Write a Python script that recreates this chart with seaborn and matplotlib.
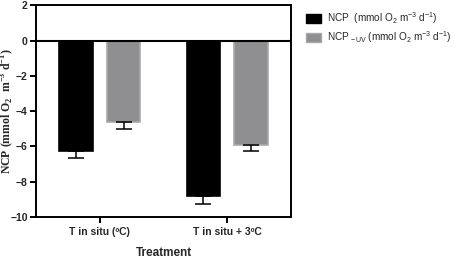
import matplotlib
matplotlib.use("Agg")
import matplotlib.pyplot as plt
from matplotlib.patches import Patch
import seaborn as sns
import pandas as pd
import numpy as np

treatments = ["T in situ (ºC)", "T in situ + 3ºC"]
series = ["NCP", "NCP_UV"]
ncp = [-6.25, -8.82]
ncp_err = [0.40, 0.46]
ncp_uv = [-4.60, -5.93]
ncp_uv_err = [0.38, 0.34]
legend_labels = [
    r"NCP  (mmol O$_2$ m$^{-3}$ d$^{-1}$)",
    r"NCP $_{\mathrm{-UV}}$ (mmol O$_2$ m$^{-3}$ d$^{-1}$)",
]

df = pd.DataFrame({
    "Treatment": treatments * 2,
    "Series": [series[0]] * 2 + [series[1]] * 2,
    "Value": ncp + ncp_uv,
})
errs = {series[0]: ncp_err, series[1]: ncp_uv_err}

sns.set_style("white")
plt.rcParams["font.family"] = ["Liberation Sans", "DejaVu Sans"]
plt.rcParams["mathtext.fontset"] = "custom"
plt.rcParams["mathtext.rm"] = "Liberation Sans"
plt.rcParams["mathtext.it"] = "Liberation Sans:italic"
plt.rcParams["mathtext.bf"] = "Liberation Serif:bold"

fig = plt.figure(figsize=(4.54, 2.6), dpi=100)
ax = fig.add_axes([0.0793, 0.1654, 0.5617, 0.8135])

colors = {series[0]: "#000000", series[1]: "#8e8e93"}
edges = {series[0]: "#000000", series[1]: "#a9a9a9"}
sns.barplot(
    data=df, x="Treatment", y="Value", hue="Series", palette=colors,
    errorbar=None, width=0.75, gap=0.3, ax=ax, legend=False,
)

# lower-only error bars with caps
for container, s in zip(ax.containers, series):
    xs = []
    for bar in container:
        bar.set_edgecolor(edges[s])
        bar.set_linewidth(1.2)
        xs.append(bar.get_x() + bar.get_width() / 2)
    vals = df.loc[df["Series"] == s, "Value"].values
    e = np.array(errs[s])
    ax.errorbar(xs, vals, yerr=[e, np.zeros_like(e)], fmt="none",
                ecolor="black", elinewidth=1.1, capsize=6, capthick=1.1, zorder=1)

ax.axhline(0, color="black", lw=1.5, zorder=3)
ax.set_ylim(-10, 2)
ax.set_xlim(-0.5, 1.5)
ax.set_yticks(range(-10, 3, 2))
for sp in ax.spines.values():
    sp.set_linewidth(1.4)
    sp.set_color("black")
ax.tick_params(axis="both", direction="out", length=4, width=1.4,
               labelsize=7.5, left=True, bottom=True, color="black")
ax.tick_params(axis="y", pad=2)
for lab in ax.get_yticklabels() + ax.get_xticklabels():
    lab.set_fontweight("bold")

ax.set_xlabel("Treatment", fontsize=8.5, fontweight="bold")
ax.xaxis.set_label_coords(0.5, -0.14)
ax.set_ylabel(r"NCP (mmol O$_\mathbf{2}$  m$^\mathbf{-3}$ d$^\mathbf{-1}$)",
              fontsize=8.5, fontweight="bold", family="Liberation Serif")
ax.yaxis.set_label_coords(-0.077, 0.5)

handles = [Patch(facecolor=colors[s], edgecolor=edges[s]) for s in series]
fig.legend(handles, legend_labels, loc="upper left", bbox_to_anchor=(0.655, 0.995),
           frameon=False, fontsize=7.2, handlelength=1.5, handleheight=1.0,
           handletextpad=0.6, labelspacing=0.3)

fig.savefig("out.png", dpi=100)
